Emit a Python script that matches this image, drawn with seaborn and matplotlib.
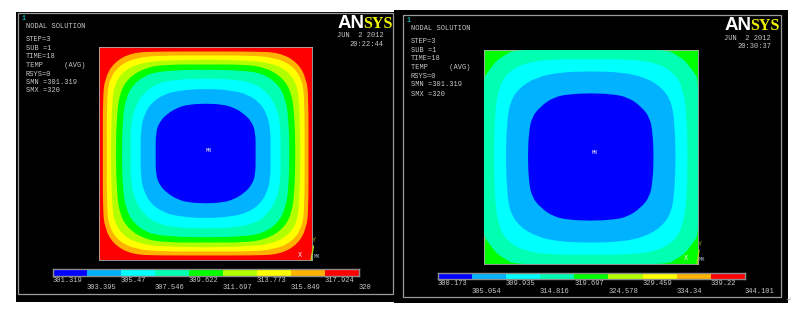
import matplotlib
matplotlib.use("Agg")
import matplotlib.pyplot as plt
import numpy as np
import seaborn as sns
from matplotlib.colors import ListedColormap
from matplotlib.patches import PathPatch
from matplotlib.path import Path

# ANSYS 9 band contour colours
band_colors = ['#0000FF', '#00B2FF', '#00FFFF', '#00FFB2', '#00FF00',
               '#B2FF00', '#FFFF00', '#FFB200', '#FF0000']

left_levels = [301.319, 303.395, 305.47, 307.546, 309.622, 311.697, 313.773, 315.849, 317.924, 320]
right_levels = [300.173, 305.054, 309.935, 314.816, 319.697, 324.578, 329.459, 334.34, 339.22, 344.101]

left_info = ['STEP=3', 'SUB =1', 'TIME=18', 'TEMP     (AVG)', 'RSYS=0', 'SMN =301.319', 'SMX =320']
right_info = ['STEP=3', 'SUB =1', 'TIME=18', 'TEMP     (AVG)', 'RSYS=0', 'SMN =301.319', 'SMX =320']

# Contour outlines, one quarter of the plate (u, v from centre).
# Ordered from the outer band inwards, plate half width is about 107.
left_contours = {
    7: [(103, 0), (103, 55), (101, 75), (92, 91), (74, 101), (47, 102), (0, 102)],
    6: [(99, 0), (99, 51), (97, 73), (87, 88), (69, 96), (44, 98), (0, 98)],
    5: [(95, 0), (94, 45), (92, 68), (82, 83), (64, 91), (40, 93), (0, 94)],
    4: [(90, 0), (89, 38), (86, 61), (77, 76), (60, 86), (39, 89), (0, 89)],
    3: [(84, 0), (83, 35), (80, 55), (72, 70), (57, 80), (37, 83), (0, 84)],
    2: [(75, 0), (75, 28), (71, 46), (62, 61), (49, 70), (30, 74), (0, 75)],
    1: [(65, 0), (65, 25), (61, 40), (54, 51), (42, 59), (27, 63), (0, 65)],
    0: [(50, 0), (50, 21), (46, 32), (38, 40), (28, 46), (17, 49), (0, 50)],
}
right_contours = {
    3: [(108, 0), (108, 78), (103, 85), (100, 89), (94, 97), (86, 102), (76, 108), (0, 108)],
    2: [(97, 0), (96, 45), (92, 69), (84, 84), (67, 94), (41, 98), (0, 98)],
    1: [(85, 0), (84, 32), (81, 55), (71, 70), (54, 80), (31, 85), (0, 86)],
    0: [(63, 0), (62, 24), (59, 40), (50, 51), (37, 60), (22, 63), (0, 64)],
}

sns.set_style("white")
plt.rcParams['font.family'] = ['Liberation Mono', 'DejaVu Sans']

W, H = 800, 315
text_color = '#c8c8c8'
fig = plt.figure(figsize=(8, 3.15), dpi=100, facecolor='white')


def px_axes(x0, y0, x1, y1):
    return fig.add_axes([x0 / W, 1 - y1 / H, (x1 - x0) / W, (y1 - y0) / H])


def contour_path(quarter):
    # mirror the quarter into a closed loop, then round it with quadratic segments
    q = list(quarter)
    loop = q + [(-u, v) for u, v in q[::-1][1:]]
    loop = loop + [(u, -v) for u, v in loop[::-1][1:-1]]
    pts = np.array(loop, dtype=float)
    mids = (pts + np.roll(pts, -1, axis=0)) / 2
    verts = [mids[-1]]
    codes = [Path.MOVETO]
    for p, m in zip(pts, mids):
        verts += [p, m]
        codes += [Path.CURVE3, Path.CURVE3]
    return Path(verts, codes)


def draw_field(box, half, base, contours):
    ax = px_axes(*box)
    ax.set_xlim(-half, half)
    ax.set_ylim(-half, half)
    ax.set_facecolor(band_colors[base])
    for band, quarter in contours.items():
        ax.add_patch(PathPatch(contour_path(quarter), facecolor=band_colors[band], edgecolor='none', zorder=2 + base - band))
    ax.set_xticks([])
    ax.set_yticks([])
    for s in ax.spines.values():
        s.set_color('#b0b0b0')
        s.set_linewidth(0.6)
        s.set_linestyle((0, (2, 1)))
    return ax


def draw_legend(box, levels, row1, row2):
    ax = px_axes(*box)
    strip = np.array([levels[:-1]])
    sns.heatmap(strip, cmap=ListedColormap(band_colors), cbar=False, xticklabels=False,
                yticklabels=False, ax=ax)
    for s in ax.spines.values():
        s.set_visible(True)
        s.set_color('#8c8c8c')
        s.set_linewidth(1.0)
    tr = ax.get_xaxis_transform()
    for i, lev in enumerate(levels):
        row = row1 if i % 2 == 0 else row2
        ax.text(i, row, f'{lev:g}', transform=tr, color=text_color, fontsize=5.1,
                ha='left', va='center', clip_on=False)
    return ax


# background layer in picture pixels
bg = fig.add_axes([0, 0, 1, 1])
bg.set_xlim(0, W)
bg.set_ylim(H, 0)
bg.axis('off')
bg.add_patch(plt.Rectangle((16.3, 11.7), 378, 290, fc='black', ec='none'))
bg.add_patch(plt.Rectangle((394, 10), 394, 292.7, fc='black', ec='none'))
bg.add_patch(plt.Rectangle((18, 13), 374.7, 281, fc='none', ec='#9a9a9a', lw=0.9))
bg.add_patch(plt.Rectangle((402.7, 15), 378.3, 282.3, fc='none', ec='#9a9a9a', lw=0.9))


def panel_text(x, ys, info, stamp, logo_x, logo_y, date_x, date_y, clock):
    bg.text(x - 4, ys[0] - 8.5, '1', color='#00b0b0', fontsize=4.8, va='center', weight='bold')
    bg.text(x, ys[0], 'NODAL SOLUTION', color=text_color, fontsize=5.0, va='center')
    for y, line in zip(ys[1:], info):
        bg.text(x, y, line, color=text_color, fontsize=5.0, va='center')
    bg.text(logo_x, logo_y, 'AN', color='white', fontsize=13.5, weight='bold', family='Liberation Sans',
            va='baseline')
    bg.text(logo_x + 25.5, logo_y, 'SYS', color='#f0f000', fontsize=11.5, weight='bold', family='Liberation Serif',
            va='baseline')
    bg.text(date_x, date_y, stamp, color=text_color, fontsize=5.0, va='center', ha='right')
    bg.text(date_x, date_y + 8.6, clock, color=text_color, fontsize=5.0, va='center', ha='right')


panel_text(26, [26.7, 39.3, 48, 56.7, 65.3, 74, 82.3, 91], left_info, 'JUN  2 2012', 338, 27.5, 384, 35.7, '20:22:44')
panel_text(410.7, [29, 41.7, 50.5, 59, 67.7, 76.3, 85, 94], right_info, 'JUN  2 2012', 725, 29.7, 771, 38.3, '20:30:37')

draw_field((99.3, 47, 312, 260), 106.5, 8, left_contours)
draw_field((483.5, 50, 698, 264), 107.3, 4, right_contours)

draw_legend((53, 269, 358.5, 275.5), left_levels, -0.7, -1.88)
draw_legend((437.5, 272.5, 745, 279), right_levels, -0.66, -1.85)

# labels that sit on top of the plates
top = fig.add_axes([0, 0, 1, 1], facecolor='none')
top.set_xlim(0, W)
top.set_ylim(H, 0)
top.axis('off')


def triad(xx, xy, yy_x, yy, mx_x, mx_y, line):
    top.text(xx, xy, 'X', color='#e8e8e8', fontsize=5.0, ha='center', va='center')
    top.text(yy_x, yy, 'Y', color='#a0a020', fontsize=5.0, ha='center', va='center')
    top.text(mx_x, mx_y, 'MX', color='#a8c0d0', fontsize=4.0, ha='center', va='center')
    top.plot(line[0], line[1], color='#a8e020', lw=0.9)


top.text(209, 150, 'MN', color='#e8e8e8', fontsize=3.6, ha='center', va='center')
top.text(594.7, 152.7, 'MN', color='#e8e8e8', fontsize=3.6, ha='center', va='center')
triad(300, 255.7, 314, 241, 316.7, 256, ([311, 313.5], [260, 246]))
triad(686, 259, 700, 244.3, 701.7, 259.3, ([697, 699], [264, 250]))
top.text(789, 299.5, '↵', color='#a0a0a0', fontsize=4, family='DejaVu Sans', ha='center', va='center')
top.set_xlim(0, W)
top.set_ylim(H, 0)

fig.savefig('out.png', dpi=100)
